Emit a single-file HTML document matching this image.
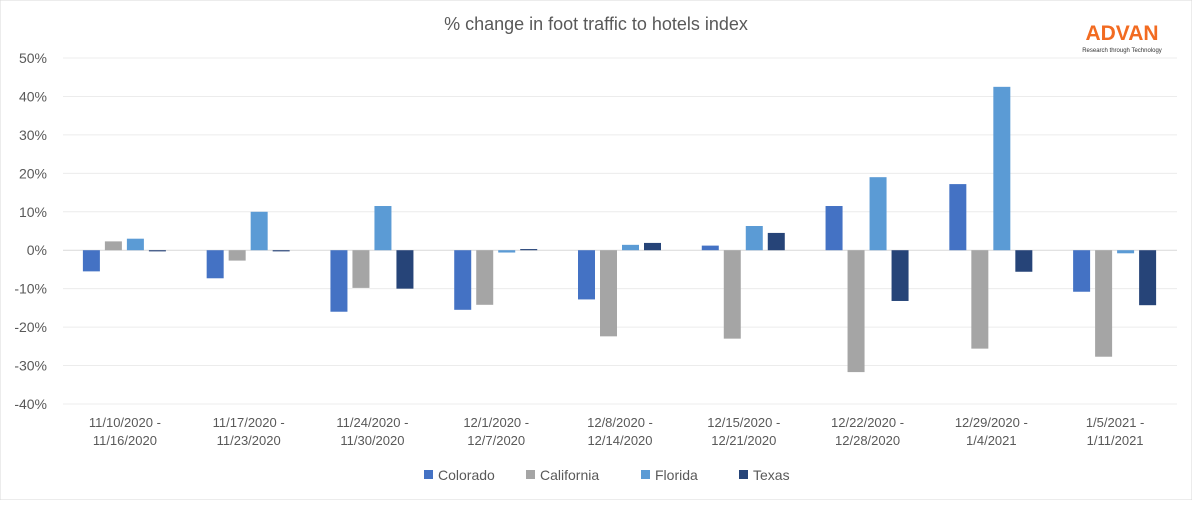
<!DOCTYPE html>
<html><head><meta charset="utf-8"><style>
body{margin:0;background:#fff;font-family:"Liberation Sans",sans-serif;}
svg text{font-family:"Liberation Sans",sans-serif;}
</style></head><body>
<svg id="chart" width="1192" height="500">
<rect width="1192" height="500" fill="#fff" stroke="#d9d9d9"/>
<text x="596" y="30" text-anchor="middle" font-size="18" fill="#595959">% change in foot traffic to hotels index</text>
<g>
<text x="1122" y="40" text-anchor="middle" font-size="21" font-weight="bold" fill="#f26b21">ADVAN</text>
<text x="1122" y="52" text-anchor="middle" font-size="6" fill="#333">Research through Technology</text>
</g>
<g id="grid"></g><g id="bars"></g><g id="labels"></g><g id="legend"></g>
</svg>
<script>
const categories=[["11/10/2020 -","11/16/2020"],["11/17/2020 -","11/23/2020"],["11/24/2020 -","11/30/2020"],["12/1/2020 -","12/7/2020"],["12/8/2020 -","12/14/2020"],["12/15/2020 -","12/21/2020"],["12/22/2020 -","12/28/2020"],["12/29/2020 -","1/4/2021"],["1/5/2021 -","1/11/2021"]];
const seriesNames=["Colorado","California","Florida","Texas"];
const colorado=[-5.5,-7.3,-16,-15.5,-12.8,1.2,11.5,17.2,-10.8];
const california=[2.3,-2.7,-9.8,-14.2,-22.4,-23,-31.7,-25.6,-27.7];
const florida=[3,10,11.5,-0.6,1.4,6.3,19,42.5,-0.8];
const texas=[-0.3,-0.3,-10,0.3,1.9,4.5,-13.2,-5.6,-14.3];
const ticks=[50,40,30,20,10,0,-10,-20,-30,-40];
const colors=["#4472C4","#A5A5A5","#5B9BD5","#264478"];
const series=[colorado,california,florida,texas];
const NS="http://www.w3.org/2000/svg";
const x0=63,x1=1177,yTop=58,yBot=404,vMax=50,vMin=-40;
const y=v=>yTop+(vMax-v)/(vMax-vMin)*(yBot-yTop);
const band=(x1-x0)/categories.length;
const cx=i=>x0+band*(i+0.5);
function mk(t,a,p){const e=document.createElementNS(NS,t);for(const k in a)e.setAttribute(k,a[k]);document.getElementById(p).appendChild(e);return e;}
ticks.forEach(t=>{
 const l=mk("line",{x1:x0,x2:x1,y1:y(t),y2:y(t),stroke:t===0?"#d9d9d9":"#ececec"},"grid");
 
 
 const tx=mk("text",{x:47,y:y(t)+5,"text-anchor":"end","font-size":"14",fill:"#595959"},"labels");
 tx.textContent=t+"%";
 
 
});
const bw=17,gap=5;
series.forEach((s,si)=>{
 s.forEach((v,i)=>{
  const bx=cx(i)-42+si*(bw+gap);
  const r=mk("rect",{x:bx,y:Math.min(y(v),y(0)),width:bw,height:Math.abs(y(v)-y(0)),fill:colors[si]},"bars");
  
  
 });
});
categories.forEach((c,i)=>{
 c.forEach((ln,j)=>{
  const t=mk("text",{x:cx(i),y:427+j*18,"text-anchor":"middle","font-size":"13",fill:"#595959"},"labels");
  t.textContent=ln;
  
  
 });
});
const lx=[424,526,641,739];
seriesNames.forEach((n,i)=>{
 const r=mk("rect",{x:lx[i],y:470,width:9,height:9,fill:colors[i]},"legend");
 
 
 const t=mk("text",{x:lx[i]+14,y:480,"font-size":"14",fill:"#595959"},"legend");
 t.textContent=n;
 
 
});
</script>
</body></html>
